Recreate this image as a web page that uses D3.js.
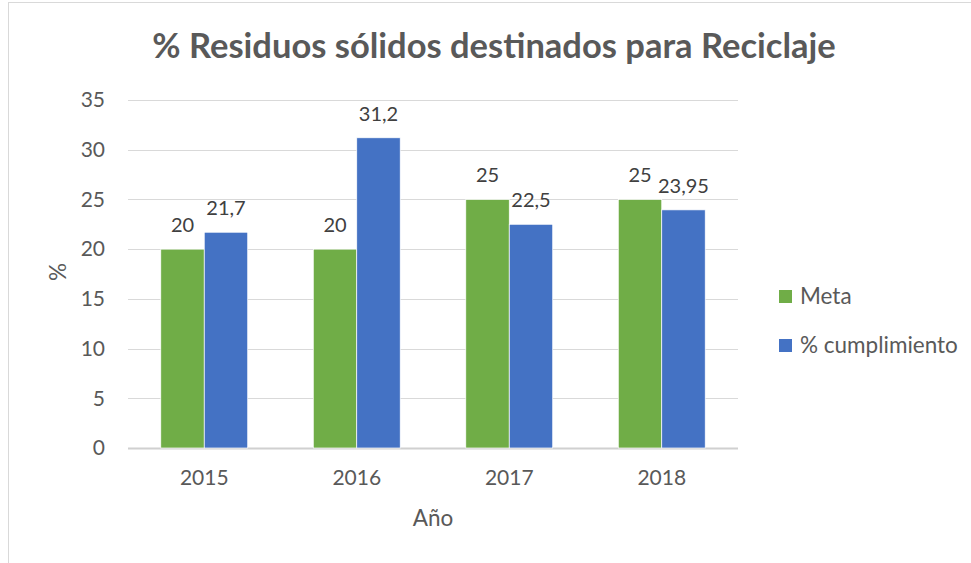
<!DOCTYPE html>
<html>
<head>
<meta charset="utf-8">
<script src="https://cdn.jsdelivr.net/npm/d3@7"></script>
<style>
  body { margin: 0; background: #fff; }
  svg { font-family: Lato, "Open Sans", sans-serif; }
</style>
</head>
<body>
<div id="chart"></div>
<script>
// data
var years = ['2015', '2016', '2017', '2018'];
var meta = [20, 20, 25, 25];
var cumplimiento = [21.7, 31.2, 22.5, 23.95];
var seriesNames = ['Meta', '% cumplimiento'];
var seriesColors = ['#70ad47', '#4472c4'];
var yTicks = [0, 5, 10, 15, 20, 25, 30, 35];

var width = 971, height = 563;
var pad = { left: 128, right: 233, top: 100, bottom: 115 };

var svg = d3.select('#chart').append('svg')
  .attr('width', width)
  .attr('height', height);

// outer frame
svg.append('rect')
  .attr('x', 8.5).attr('y', 2.5)
  .attr('width', width + 10).attr('height', height + 10)
  .attr('fill', '#fff')
  .attr('stroke', '#d9d9d9');

svg.append('text')
  .attr('x', 494).attr('y', 58)
  .attr('text-anchor', 'middle')
  .attr('font-size', 34.5)
  .attr('font-weight', 'bold')
  .attr('fill', '#595959')
  .text('% Residuos sólidos destinados para Reciclaje');

var x = d3.scaleBand()
  .domain(years)
  .range([pad.left, width - pad.right]);

var y = d3.scaleLinear()
  .domain([0, 35])
  .range([height - pad.bottom, pad.top]);

var barW = x.bandwidth() * 0.285;

// gridlines
svg.append('g').selectAll('line')
  .data(yTicks)
  .enter().append('line')
  .attr('x1', pad.left).attr('x2', width - pad.right)
  .attr('y1', function(d){ return Math.round(y(d)) + 0.5; })
  .attr('y2', function(d){ return Math.round(y(d)) + 0.5; })
  .attr('stroke', function(d){ return d === 0 ? '#d0d0d0' : '#d9d9d9'; })
  .attr('stroke-width', function(d){ return d === 0 ? 2 : 1; });

// y axis labels
var yAxis = svg.append('g')
  .attr('transform', 'translate(' + pad.left + ',0)')
  .call(d3.axisLeft(y).tickValues(yTicks).tickSize(0).tickPadding(23));
yAxis.select('.domain').remove();
yAxis.selectAll('text').attr('font-size', 21).attr('fill', '#595959').attr('font-family', 'Lato, sans-serif');

// x axis labels
var xAxis = svg.append('g')
  .attr('transform', 'translate(0,' + (height - pad.bottom) + ')')
  .call(d3.axisBottom(x).tickSize(0).tickPadding(22));
xAxis.select('.domain').remove();
xAxis.selectAll('text').attr('font-size', 21).attr('fill', '#595959').attr('font-family', 'Lato, sans-serif');

var series = [meta, cumplimiento];
series.forEach(function(vals, si){
  var g = svg.append('g');
  g.selectAll('rect')
    .data(vals)
    .enter().append('rect')
    .attr('x', function(d, i){ return x(years[i]) + x.bandwidth() / 2 - barW + si * barW; })
    .attr('y', function(d){ return y(d); })
    .attr('width', barW)
    .attr('height', function(d){ return y(0) - y(d); })
    .attr('fill', seriesColors[si])
    .attr('stroke', '#fff')
    .attr('stroke-width', 0.7);

  g.selectAll('text')
    .data(vals)
    .enter().append('text')
    .attr('x', function(d, i){ return x(years[i]) + x.bandwidth() / 2 - barW / 2 + si * barW; })
    .attr('y', function(d){ return y(d) - 17; })
    .attr('text-anchor', 'middle')
    .attr('font-size', 20)
    .attr('fill', '#404040')
    .text(function(d){ return String(d).replace('.', ','); });
});

// axis titles
svg.append('text')
  .attr('x', 433).attr('y', 526)
  .attr('text-anchor', 'middle')
  .attr('font-size', 22.5)
  .attr('fill', '#595959')
  .text('Año');

svg.append('text')
  .attr('transform', 'translate(66,272) rotate(-90)')
  .attr('text-anchor', 'middle')
  .attr('font-size', 22.5)
  .attr('fill', '#595959')
  .text('%');

// legend
var legend = svg.append('g').selectAll('g')
  .data(seriesNames)
  .enter().append('g')
  .attr('transform', function(d, i){ return 'translate(779,' + (290 + i * 49) + ')'; });
legend.append('rect')
  .attr('width', 13).attr('height', 13)
  .attr('fill', function(d, i){ return seriesColors[i]; });
legend.append('text')
  .attr('x', 21).attr('y', 14)
  .attr('font-size', 22.5)
  .attr('fill', '#595959')
  .text(function(d){ return d; });
</script>
</body>
</html>
